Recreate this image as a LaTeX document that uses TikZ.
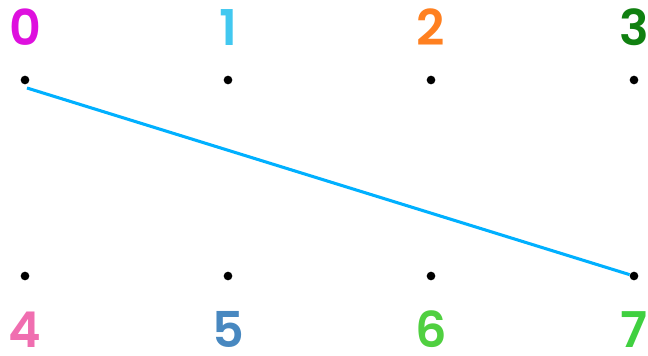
\documentclass[tikz,border=0pt]{standalone}
\usepackage{fontspec}
\setmainfont{Poppins}
\newfontfamily\numfont{Poppins SemiBold}
\usetikzlibrary{positioning}
\usepackage{xcolor}
\definecolor{cZero}{RGB}{222,16,222}
\definecolor{cOne}{RGB}{66,200,240}
\definecolor{cTwo}{RGB}{255,128,32}
\definecolor{cThree}{RGB}{16,128,16}
\definecolor{cFour}{RGB}{240,110,176}
\definecolor{cFive}{RGB}{72,136,192}
\definecolor{cSix}{RGB}{80,208,64}
\definecolor{cSeven}{RGB}{64,208,64}
\definecolor{edgeblue}{RGB}{0,176,255}

\begin{document}
\begin{tikzpicture}[
    x=0.75pt, y=-0.75pt,
    pt/.style={circle, fill=black, inner sep=0pt, minimum size=6.5pt},
    num/.style={font=\numfont\fontsize{37}{37}\selectfont, inner sep=0pt, anchor=base},
    link/.style={draw=edgeblue, line width=2.3pt}
]
    \useasboundingbox (0,0) rectangle (648,356);

    % points
    \node[pt] (p0) at (25,80) {};
    \node[pt] (p1) at (228,80) {};
    \node[pt] (p2) at (431,80) {};
    \node[pt] (p3) at (634,80) {};
    \node[pt] (p4) at (25,276) {};
    \node[pt] (p5) at (228,276) {};
    \node[pt] (p6) at (431,276) {};
    \node[pt] (p7) at (634,276) {};

    % labels
    \node[num, text=cZero] (n0) at (25,46) {0};
    \node[num, text=cOne] (n1) at (228,46) {1};
    \node[num, text=cTwo] (n2) at (431,46) {2};
    \node[num, text=cThree] (n3) at (634,46) {3};
    \node[num, text=cFour] (n4) at (25,347) {4};
    \node[num, text=cFive] (n5) at (228,347) {5};
    \node[num, text=cSix] (n6) at (431,347) {6};
    \node[num, text=cSeven] (n7) at (634,347) {7};

    \coordinate (start) at (27,88);
    \draw[link] (start) -- (p7);
\end{tikzpicture}
\end{document}
